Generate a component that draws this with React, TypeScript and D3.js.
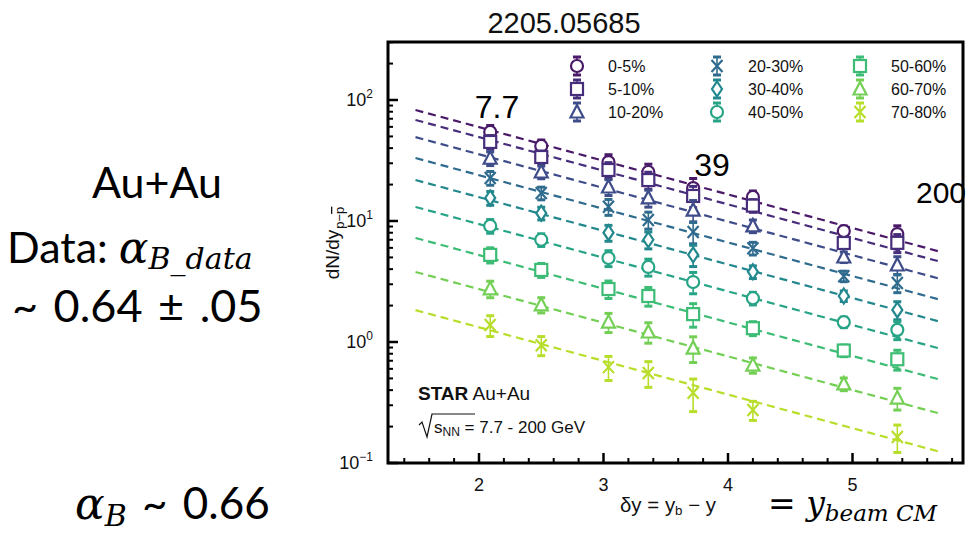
import React from 'react';
import * as d3 from 'd3';

const energies = ['7.7', '11.5', '19.6', '27', '39', '62.4', '130', '200'];
const deltaY = [2.09, 2.5, 3.04, 3.36, 3.72, 4.2, 4.93, 5.36];
const centralities = ['0-5%', '5-10%', '10-20%', '20-30%', '30-40%', '40-50%', '50-60%', '60-70%', '70-80%'];
const markers = ['circle', 'square', 'triangle', 'cross', 'diamond', 'circle', 'square', 'triangle', 'cross'];
const colors = ['#4a1a69', '#472e7c', '#3e4c8a', '#2f6b8e', '#23888e', '#27a486', '#3cbc74', '#74cf55', '#b8de2c'];

const c0_5 = [54.5, 41.7, 30.7, 25.4, 18.7, 15.8, 8.26, 7.8];
const c5_10 = [45, 33.8, 26.4, 21.8, 16.1, 13.4, 6.58, 6.6];
const c10_20 = [33, 25.4, 19.1, 15.5, 12.3, 9.1, 5.04, 4.33];
const c20_30 = [22.7, 17, 13.1, 10.2, 8.1, 5.95, 3.5, 3.08];
const c30_40 = [15.5, 11.6, 8.0, 7.0, 5.25, 3.8, 2.4, 1.84];
const c40_50 = [9.1, 7.0, 4.94, 4.17, 3.13, 2.3, 1.46, 1.26];
const c50_60 = [5.25, 3.94, 2.74, 2.4, 1.7, 1.3, 0.85, 0.72];
const c60_70 = [2.75, 2.03, 1.46, 1.21, 0.89, 0.645, 0.45, 0.344];
const c70_80 = [1.38, 0.94, 0.62, 0.555, 0.38, 0.274, null, 0.164];
const seriesValues = [c0_5, c5_10, c10_20, c20_30, c30_40, c40_50, c50_60, c60_70, c70_80];

// relative uncertainty per energy
const errRel = [0.13, 0.12, 0.15, 0.16, 0.2, 0.12, 0.1, 0.17];
const errPeripheralScale = [1, 1, 1, 1, 1, 1, 1.1, 1.2, 1.5];

// exponential fits: A * exp(-alpha * dy)
const fitA = [214.6, 177.5, 128, 86, 56.6, 33.9, 18.8, 9.84, 4.76];
const fitAlpha = 0.64;
const fitRange = [1.49, 5.71];

const yTickValues = [0.1, 1, 10, 100];
const yTickExp = ['−1', '0', '1', '2'];
const xTickValues = [2, 3, 4, 5];

const W = 968, H = 535;
const frame = { left: 388, right: 963, top: 42, bottom: 463 };

function Marker({ type, x, y, color }: { type: string; x: number; y: number; color: string }) {
  const sw = 2.2;
  switch (type) {
    case 'circle':
      return <circle cx={x} cy={y} r={6} fill="white" stroke={color} strokeWidth={sw} />;
    case 'square':
      return <rect x={x - 6} y={y - 6} width={12} height={12} fill="white" stroke={color} strokeWidth={sw} />;
    case 'triangle':
      return <path d={`M${x},${y - 7}L${x + 6.5},${y + 5.5}L${x - 6.5},${y + 5.5}Z`} fill="white" stroke={color} strokeWidth={sw} />;
    case 'diamond':
      return <path d={`M${x},${y - 7.5}L${x + 5},${y}L${x},${y + 7.5}L${x - 5},${y}Z`} fill="white" stroke={color} strokeWidth={sw} />;
    case 'cross':
      return <path d={`M${x - 5.5},${y - 6}L${x + 5.5},${y + 6}M${x + 5.5},${y - 6}L${x - 5.5},${y + 6}`} fill="none" stroke={color} strokeWidth={sw} />;
    default:
      return null;
  }
}

function ErrPoint({ type, x, y0, y1, y2, color }: any) {
  return (
    <g>
      <line x1={x} x2={x} y1={y1} y2={y2} stroke={color} strokeWidth={1.6} />
      <line x1={x - 4} x2={x + 4} y1={y1} y2={y1} stroke={color} strokeWidth={3} />
      <line x1={x - 4} x2={x + 4} y1={y2} y2={y2} stroke={color} strokeWidth={3} />
      <Marker type={type} x={x} y={y0} color={color} />
    </g>
  );
}

export default function App() {
  const x = d3.scaleLinear().domain([2, 5]).range([479, 852.5]);
  const y = d3.scaleLog().domain([0.1, 100]).range([frame.bottom, 100]);

  const yMinor: number[] = [];
  for (let e = -1; e < 3; e++) {
    for (let k = 2; k <= 9; k++) {
      const v = k * Math.pow(10, e);
      if (y(v) >= frame.top) yMinor.push(v);
    }
  }
  const xMinor: number[] = [];
  for (let i = 0; i <= 30; i++) {
    const vv = Math.round((1.4 + i * 0.2) * 10) / 10;
    if (x(vv) > frame.left + 2 && x(vv) < frame.right - 2 && Math.abs(vv - Math.round(vv)) > 0.01) xMinor.push(vv);
  }

  const legendCols = [577, 717, 860];
  const legendRows = [66, 89, 112];

  const sans = 'Liberation Sans, Arial, Helvetica, sans-serif';
  const pptSans = 'Lato, Open Sans, sans-serif';
  const mathFont = 'DejaVu Serif, Liberation Serif, serif';

  return (
    <svg width={W} height={H} style={{ position: 'absolute', left: 0, top: 0, background: 'white' }} fontFamily={sans}>
      <rect x={0} y={0} width={W} height={H} fill="white" />
      <defs>
        <clipPath id="plotclip">
          <rect x={frame.left} y={frame.top} width={frame.right - frame.left} height={frame.bottom - frame.top} />
        </clipPath>
      </defs>
      {/* Title */}
      <text x={564} y={33} textAnchor="middle" fontSize={29} fontFamily={sans} fill="#111">2205.05685</text>

      {/* Left annotations */}
      <text x={157} y={198} textAnchor="middle" fontSize={43} fontFamily={pptSans} fill="#000">Au+Au</text>
      <text x={7} y={263} fontSize={43} fontFamily={pptSans} fill="#000">
        Data:{' '}
        <tspan fontFamily={mathFont} fontStyle="italic" fontSize={44}>α</tspan>
        <tspan fontFamily={mathFont} fontStyle="italic" fontSize={30} dy={6}>B_data</tspan>
      </text>
      <text x={12} y={322} fontSize={45} fontFamily={pptSans} fill="#000" wordSpacing={4}>~ 0.64 ± .05</text>
      <text x={75} y={519} fontSize={44} fill="#000">
        <tspan fontFamily={mathFont} fontStyle="italic" fontSize={44}>α</tspan>
        <tspan fontFamily={mathFont} fontStyle="italic" fontSize={30} dy={7}>B</tspan>
        <tspan fontFamily={pptSans} dy={-7} wordSpacing={4}> ~ 0.66</tspan>
      </text>

      {/* Fit lines */}
      <g clipPath="url(#plotclip)">
        {fitA.map((A, i) => {
          const pts = fitRange.map((d) => [x(d), y(A * Math.exp(-fitAlpha * d))] as [number, number]);
          const path = d3.line()(pts) as string;
          return <path key={i} d={path} fill="none" stroke={colors[i]} strokeWidth={2.2} strokeDasharray="8,5" />;
        })}
      </g>

      {/* Data points */}
      {seriesValues.map((vals, i) => (
        <g key={i}>
          {vals.map((v, j) => {
            if (v == null) return null;
            const e = v * errRel[j] * errPeripheralScale[i];
            return (
              <ErrPoint key={j} type={markers[i]} x={x(deltaY[j])} y0={y(v)} y1={y(v + e)} y2={y(Math.max(v - e, 0.0001))} color={colors[i]} />
            );
          })}
        </g>
      ))}

      {/* Energy labels */}
      <text x={497} y={118} textAnchor="middle" fontSize={32} fill="#000">{energies[0]}</text>
      <text x={712} y={176} textAnchor="middle" fontSize={32} fill="#000">{energies[4]}</text>
      <text x={941} y={203} textAnchor="middle" fontSize={30} fill="#000">{energies[7]}</text>

      {/* Legend */}
      {centralities.map((c, i) => {
        const col = Math.floor(i / 3);
        const row = i % 3;
        const lx = legendCols[col];
        const ly = legendRows[row];
        return (
          <g key={c}>
            <ErrPoint type={markers[i]} x={lx} y0={ly} y1={ly - 9} y2={ly + 9} color={colors[i]} />
            <text x={lx + 31} y={ly + 5.5} fontSize={16} fill="#111">{c}</text>
          </g>
        );
      })}

      {/* STAR label */}
      <text x={418} y={400} fontSize={19} fill="#111">
        <tspan fontWeight="bold">STAR</tspan> Au+Au
      </text>
      <g>
        <path d="M419,425 L422,422 L427,437 L432,414 L475,414" fill="none" stroke="#111" strokeWidth={1.2} />
        <text x={434} y={433} fontSize={17} fill="#111">
          s<tspan fontSize={12} dy={3}>NN</tspan>
          <tspan dy={-3}> = 7.7 - 200 GeV</tspan>
        </text>
      </g>

      {/* Frame */}
      <rect x={frame.left} y={frame.top} width={frame.right - frame.left} height={frame.bottom - frame.top} fill="none" stroke="#000" strokeWidth={3} />

      {/* Y ticks */}
      {yTickValues.map((v, i) => (
        <g key={v}>
          <line x1={frame.left} x2={frame.left + 10} y1={y(v)} y2={y(v)} stroke="#000" strokeWidth={2.5} />
          <text x={373} y={y(v) + 6} textAnchor="end" fontSize={18} fill="#111">
            10<tspan fontSize={12} dy={-8}>{yTickExp[i]}</tspan>
          </text>
        </g>
      ))}
      {yMinor.map((v) => (
        <line key={v} x1={frame.left} x2={frame.left + 5} y1={y(v)} y2={y(v)} stroke="#000" strokeWidth={2} />
      ))}

      {/* X ticks */}
      {xTickValues.map((v) => (
        <g key={v}>
          <line x1={x(v)} x2={x(v)} y1={frame.bottom} y2={frame.bottom - 10} stroke="#000" strokeWidth={2.5} />
          <text x={x(v)} y={frame.bottom + 28} textAnchor="middle" fontSize={18} fill="#111">{v}</text>
        </g>
      ))}
      {xMinor.map((v) => (
        <line key={v} x1={x(v)} x2={x(v)} y1={frame.bottom} y2={frame.bottom - 5} stroke="#000" strokeWidth={2} />
      ))}

      {/* Axis labels */}
      <text transform="translate(339,243) rotate(-90)" textAnchor="middle" fontSize={19} fill="#111">
        dN/dy<tspan fontSize={13} dy={5} dx={1}>p−</tspan>
        <tspan fontSize={13} style={{ textDecoration: 'overline' }}>p</tspan>
      </text>
      <text x={620} y={512} fontSize={20} fill="#111" textLength={96} lengthAdjust="spacingAndGlyphs">
        δy = y<tspan fontSize={13} dy={3}>b</tspan><tspan dy={-3}> − y</tspan>
      </text>
      <text x={768} y={515} fontSize={33} fontFamily={mathFont} fill="#000">
        = <tspan fontStyle="italic">y</tspan>
        <tspan fontStyle="italic" fontSize={23} dy={6}>beam CM</tspan>
      </text>
    </svg>
  );
}
